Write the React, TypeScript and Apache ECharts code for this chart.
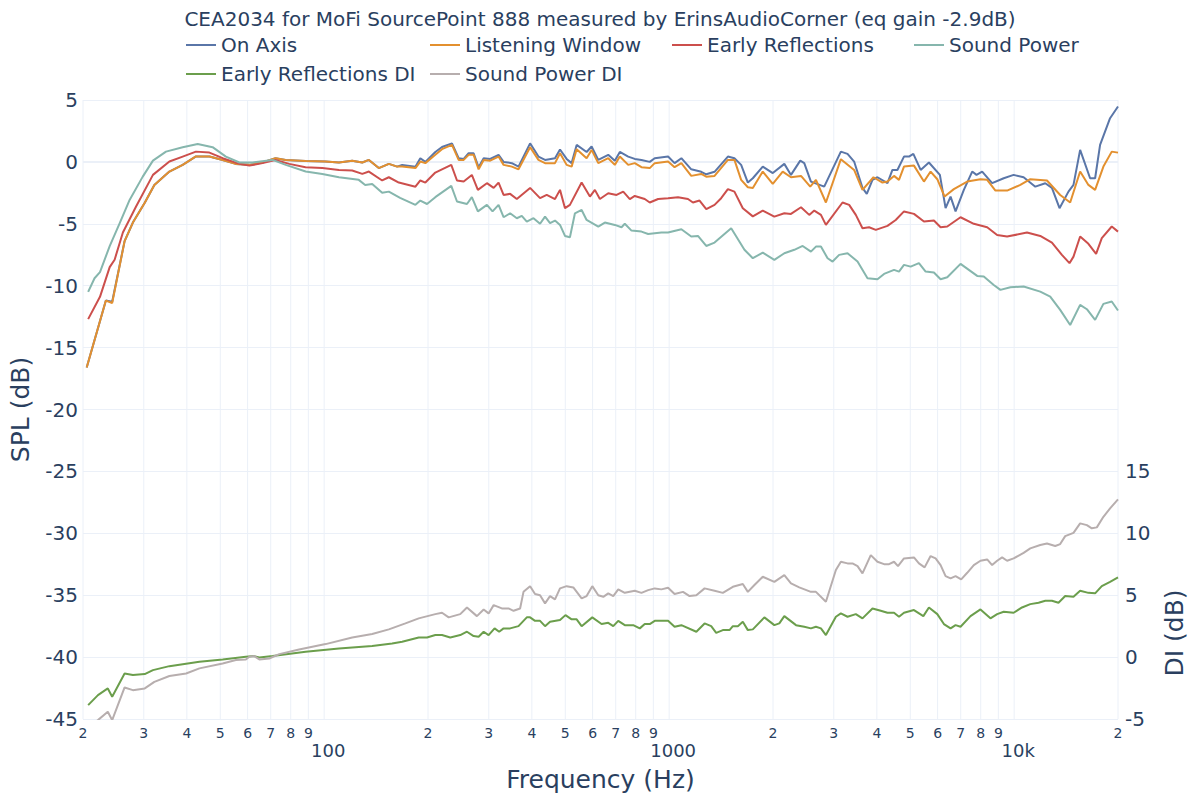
import React, { useEffect, useRef } from 'react';
import * as echarts from 'echarts';

const TITLE = 'CEA2034 for MoFi SourcePoint 888 measured by ErinsAudioCorner (eq gain -2.9dB)';
const FREQ_MIN = 20;
const FREQ_MAX = 20000;
const SPL_MIN = -45;
const SPL_MAX = 5;
const DI_MIN = -5;
const DI_MAX = 45;
const DI_LABEL_MAX = 15;

const tickHz = [20, 30, 40, 50, 60, 70, 80, 90, 100, 200, 300, 400, 500, 600, 700, 800, 900,
  1000, 2000, 3000, 4000, 5000, 6000, 7000, 8000, 9000, 10000, 20000];
const majorTickHz = [100, 1000, 10000];
const majorTickLabels = ['100', '1000', '10k'];

const seriesNames = ['On Axis', 'Listening Window', 'Early Reflections', 'Sound Power', 'Early Reflections DI', 'Sound Power DI'];
const seriesColors = ['#5a76a8', '#e3902f', '#cc4f4c', '#86b6ad', '#6b9e4c', '#b7aeae'];

const onAxis: [number, number][] = [
  [20.5, -16.6], [23.3, -11.2], [24.3, -11.3], [26.4, -6.4], [27.9, -4.9], [30.2, -3.3], [32.2, -1.86], [35.6, -0.78],
  [38.9, -0.24], [42.4, 0.43], [46.5, 0.43], [50.8, 0.16], [55.4, -0.16], [60.7, -0.24], [66.3, -0.05], [72.3, 0.3],
  [77.3, 0.16], [88.3, 0.08], [100.8, 0.03], [110.4, -0.05], [120.6, 0.1], [129, -0.05], [134.8, 0.16], [144, -0.5],
  [154, -0.16], [162.8, -0.38], [168.3, -0.24], [183.9, -0.4], [190, 0.3], [196.5, 0.0], [210, 0.8], [219.6, 1.2],
  [234.7, 1.5], [245.4, 0.3], [253.8, 0.24], [262.3, 0.7], [271.2, 0.7], [280.4, -0.43], [290, 0.3], [302.8, 0.24],
  [320.3, 0.57], [331.2, 0.0], [350, -0.1], [365.9, -0.38], [395.3, 1.5], [418, 0.43], [436.8, 0.16], [466.8, 0.3],
  [482.7, 1.0], [504.5, 0.24], [521.6, -0.1], [539.4, 1.37], [576.5, 0.8], [596, 1.24], [623.1, 0.16], [666, 0.57],
  [695.9, 0.1], [719.6, 0.8], [760.9, 0.43], [795, 0.24], [831.3, 0.16], [878.6, 0.0], [908.2, 0.3], [992.9, 0.43],
  [1037, -0.1], [1085, 0.3], [1159, -0.6], [1239, -0.8], [1281, -1.0], [1354, -0.8], [1480, 0.43], [1546, 0.3],
  [1617, -0.24], [1691, -1.67], [1748, -1.32], [1868, -0.38], [1997, -0.9], [2157, -0.16], [2255, -1.05], [2399, 0.1],
  [2464, -0.1], [2576, -1.59], [2815, -2.0], [3146, 0.83], [3289, 0.65], [3437, 0.03], [3634, -2.1], [3740, -2.58],
  [3885, -1.45], [4016, -1.24], [4293, -1.72], [4438, -0.65], [4588, -0.65], [4794, 0.43], [4956, 0.43], [5103, 0.65],
  [5358, -0.65], [5662, -0.05], [6092, -1.05], [6328, -3.74], [6542, -2.8], [6764, -4.0], [7148, -2.26], [7558, -0.78],
  [7778, -1.05], [8078, -0.78], [8634, -1.72], [9328, -1.32], [9967, -1.05], [10653, -1.24], [11519, -2.0], [12311, -1.72],
  [12868, -2.1], [13537, -3.74], [14369, -2.4], [14860, -1.86], [15534, 0.97], [16603, -1.32], [17167, -1.32], [17746, 1.37],
  [18968, 3.53], [20000, 4.47],
];

const listeningWindow: [number, number][] = [
  [20.5, -16.6], [23.3, -11.2], [24.3, -11.4], [26.4, -6.4], [27.9, -4.9], [30.2, -3.3], [32.2, -1.86], [35.6, -0.78],
  [38.9, -0.24], [42.4, 0.43], [46.5, 0.43], [50.8, 0.16], [55.4, -0.16], [60.7, -0.24], [66.3, -0.05], [72.3, 0.3],
  [77.3, 0.16], [88.3, 0.08], [100.8, 0.03], [110.4, -0.05], [120.6, 0.1], [129, -0.05], [134.8, 0.16], [144, -0.5],
  [154, -0.16], [162.8, -0.38], [168.3, -0.38], [183.9, -0.5], [190, 0.03], [196.5, -0.1], [210, 0.57], [219.6, 1.03],
  [234.7, 1.37], [245.4, 0.16], [253.8, 0.16], [262.3, 0.57], [271.2, 0.57], [280.4, -0.6], [290, 0.16], [302.8, 0.1],
  [320.3, 0.43], [331.2, -0.24], [350, -0.38], [365.9, -0.6], [395.3, 1.19], [418, 0.16], [436.8, -0.1], [466.8, -0.1],
  [482.7, 0.7], [504.5, -0.24], [521.6, -0.38], [539.4, 1.03], [576.5, 0.3], [596, 0.97], [623.1, -0.1], [666, 0.3],
  [695.9, -0.24], [719.6, 0.43], [760.9, -0.24], [795, -0.1], [831.3, -0.43], [878.6, -0.5], [908.2, -0.1], [992.9, 0.03],
  [1037, -0.43], [1085, -0.1], [1159, -1.13], [1239, -0.97], [1281, -1.19], [1354, -1.13], [1480, 0.16], [1546, 0.16],
  [1617, -1.45], [1691, -2.05], [1748, -2.1], [1868, -0.78], [1997, -1.78], [2134, -0.78], [2255, -1.24], [2411, -1.13],
  [2564, -2.0], [2664, -1.45], [2847, -3.28], [3146, 0.22], [3437, -0.65], [3634, -2.26], [3911, -1.24], [4152, -1.67],
  [4293, -1.59], [4486, -1.13], [4637, -1.45], [4794, -0.38], [5124, -0.3], [5477, -1.59], [5726, -0.78], [5988, -1.4],
  [6286, -2.8], [6687, -2.2], [7311, -1.59], [7987, -1.4], [8352, -1.45], [8826, -2.32], [9541, -2.32], [10421, -1.86],
  [11137, -1.4], [12449, -1.5], [13598, -2.67], [14534, -3.28], [15534, -0.78], [16415, -1.86], [17167, -2.26], [18143, -0.38],
  [19184, 0.83], [20000, 0.75],
];

const earlyReflections: [number, number][] = [
  [20.7, -12.7], [22.4, -10.9], [23.9, -8.5], [24.7, -7.9], [26.1, -5.7], [28.5, -3.6], [31.9, -1.05], [35.6, 0.03],
  [38.9, 0.43], [42.5, 0.83], [46.5, 0.75], [50.8, 0.3], [56.8, -0.16], [60.7, -0.3], [66.3, -0.1], [72.2, 0.16],
  [79.2, -0.16], [88.3, -0.43], [98.8, -0.5], [110.4, -0.65], [120.6, -0.7], [129, -0.97], [134.8, -0.78], [147.3, -1.5],
  [154, -1.24], [164.6, -1.67], [183.9, -2.0], [190, -1.5], [196.5, -1.67], [210, -0.86], [233.6, -0.24], [242.7, -1.5],
  [253.8, -1.59], [268, -1.05], [279, -2.26], [296.3, -1.72], [310, -2.1], [320.3, -1.67], [331.2, -2.67], [346, -2.58],
  [361.8, -3.0], [395.3, -2.1], [422.5, -2.93], [441.7, -2.67], [466.8, -3.0], [482.7, -2.26], [499, -3.74], [515.7, -3.47],
  [557.6, -1.67], [589.3, -2.8], [609.2, -2.26], [629.9, -3.0], [666, -2.53], [703.9, -2.67], [736.1, -2.4], [769.1, -3.0],
  [795, -2.75], [849.7, -3.0], [878.6, -3.28], [929, -3.0], [992.9, -2.93], [1061, -2.85], [1134, -3.0], [1172, -3.28],
  [1225, -3.12], [1281, -3.82], [1354, -3.47], [1415, -2.93], [1480, -2.2], [1546, -2.4], [1635, -3.74], [1748, -4.4],
  [1868, -3.93], [2018, -4.42], [2157, -4.15], [2255, -4.2], [2411, -3.66], [2547, -4.28], [2634, -3.93], [2754, -4.28],
  [2847, -5.09], [3181, -3.28], [3325, -3.47], [3476, -4.28], [3634, -5.36], [3798, -5.28], [3971, -5.49], [4293, -5.17],
  [4537, -4.69], [4794, -4.0], [5124, -4.2], [5477, -4.82], [5854, -4.74], [6121, -5.28], [6400, -5.22], [6992, -4.47],
  [7640, -5.0], [8352, -5.28], [8927, -5.9], [9541, -6.03], [10896, -5.71], [11904, -5.98], [12868, -6.52], [13753, -7.51],
  [14468, -8.18], [14860, -7.65], [15534, -6.03], [16415, -6.62], [17281, -7.43], [17949, -6.16], [19184, -5.22], [20000, -5.63],
];

const soundPower: [number, number][] = [
  [20.7, -10.5], [21.6, -9.4], [22.4, -8.9], [23.9, -6.8], [25.5, -5.0], [27.3, -3.07], [29.8, -1.19], [31.9, 0.1],
  [34.8, 0.83], [38.9, 1.19], [43.0, 1.45], [47.5, 1.19], [51.9, 0.43], [56.8, -0.05], [62.0, -0.05], [70.9, 0.16],
  [77.4, -0.24], [88.4, -0.78], [98.8, -0.97], [110.4, -1.24], [126, -1.45], [131.5, -1.86], [137.8, -1.78], [147.3, -2.5],
  [154, -2.4], [166, -2.9], [183.9, -3.47], [190, -3.12], [198.7, -3.4], [210, -2.85], [233.6, -1.94], [242.7, -3.2],
  [259.4, -3.4], [268, -2.85], [279, -4.0], [296.3, -3.47], [307.7, -4.0], [320.3, -3.47], [331.2, -4.47], [346, -4.15],
  [361.8, -4.55], [374, -4.36], [386.7, -4.82], [404.4, -4.55], [422.5, -5.0], [436.8, -4.42], [451.6, -4.95], [466.8, -4.74],
  [482.7, -5.09], [499, -5.98], [515.7, -6.08], [533.3, -4.15], [557.6, -3.88], [576.5, -4.69], [623.1, -5.22], [651.1, -4.9],
  [695.9, -5.09], [727.7, -5.28], [743.8, -5.0], [777.8, -5.55], [831.3, -5.63], [869.2, -5.82], [949.7, -5.71], [992.9, -5.71],
  [1085, -5.44], [1159, -6.03], [1212, -5.98], [1281, -6.79], [1354, -6.52], [1513, -5.36], [1653, -7.1], [1748, -7.78],
  [1868, -7.33], [2018, -7.92], [2157, -7.38], [2306, -7.1], [2438, -6.79], [2576, -7.25], [2664, -6.84], [2754, -6.84],
  [2879, -7.78], [2977, -8.05], [3110, -7.51], [3289, -7.38], [3516, -8.05], [3758, -9.4], [4016, -9.48], [4197, -9.05],
  [4486, -8.72], [4637, -8.86], [4794, -8.32], [5012, -8.46], [5297, -8.18], [5539, -8.86], [5854, -8.94], [6121, -9.48],
  [6400, -9.32], [6992, -8.24], [7814, -9.21], [8165, -9.26], [8727, -9.94], [9125, -10.34], [9753, -10.12], [10653, -10.07],
  [11904, -10.48], [12723, -10.88], [13598, -11.95], [14534, -13.17], [15534, -11.55], [16248, -11.9], [17167, -12.76], [18143, -11.47],
  [19184, -11.28], [20000, -12.0],
];

const earlyReflectionsDI: [number, number][] = [
  [20.7, -3.88], [22.1, -3.07], [23.6, -2.53], [24.3, -3.2], [26.4, -1.32], [27.9, -1.45], [30.2, -1.37], [31.9, -1.05],
  [35.6, -0.73], [43.5, -0.38], [50.8, -0.19], [59.3, 0.03], [62.7, 0.08], [64.9, -0.03], [70.9, 0.08], [88.4, 0.43],
  [110.4, 0.7], [137.8, 0.89], [157.4, 1.1], [168.3, 1.24], [188, 1.59], [198.7, 1.59], [210, 1.78], [219.6, 1.78],
  [232, 1.59], [248, 1.78], [259.4, 2.05], [271.2, 1.7], [280.4, 1.64], [290, 2.05], [299.7, 1.78], [311.9, 2.32],
  [321.6, 2.05], [331.2, 2.32], [346, 2.32], [365.9, 2.5], [386.7, 3.21], [395.3, 3.21], [408.6, 2.93], [422.5, 2.93],
  [436.8, 2.5], [451.6, 2.85], [482.7, 2.99], [500.6, 3.39], [521.6, 3.05], [539.4, 3.05], [557.6, 2.5], [598.7, 3.21],
  [637, 2.67], [666, 2.77], [688.7, 2.5], [711.9, 2.93], [743.8, 2.58], [786.8, 2.58], [822, 2.32], [849.7, 2.67],
  [878.6, 2.67], [908.2, 2.93], [992.9, 2.93], [1037, 2.45], [1085, 2.58], [1199, 2.05], [1267, 2.72], [1324, 2.5],
  [1369, 1.96], [1431, 2.18], [1496, 2.18], [1530, 2.5], [1582, 2.5], [1635, 2.85], [1691, 2.18], [1748, 2.24],
  [1888, 3.21], [2018, 2.58], [2086, 2.72], [2157, 3.31], [2332, 2.58], [2464, 2.45], [2576, 2.32], [2664, 2.45],
  [2754, 2.32], [2847, 1.78], [3043, 3.26], [3146, 3.53], [3289, 3.26], [3476, 3.47], [3634, 3.13], [3885, 3.93],
  [4105, 3.74], [4293, 3.58], [4486, 3.58], [4637, 3.26], [4794, 3.58], [5124, 3.8], [5455, 3.31], [5662, 4.01],
  [5988, 3.47], [6257, 2.67], [6542, 2.32], [6764, 2.58], [6992, 2.45], [7473, 3.31], [7987, 3.85], [8537, 3.13],
  [8927, 3.47], [9328, 3.66], [9967, 3.58], [10540, 4.01], [11137, 4.28], [11770, 4.39], [12311, 4.55], [12868, 4.55],
  [13444, 4.39], [14060, 4.93], [14860, 4.87], [15534, 5.36], [16415, 5.19], [17167, 5.15], [17949, 5.73], [18968, 6.08],
  [20000, 6.44],
];

const soundPowerDI: [number, number][] = [
  [20.5, -5.8], [22.1, -5.09], [23.6, -4.42], [24.3, -5.09], [26.4, -2.45], [27.9, -2.67], [30.2, -2.53], [32.2, -2.0],
  [35.6, -1.53], [39.8, -1.32], [43.5, -0.91], [50.8, -0.51], [55.5, -0.24], [59.3, -0.19], [60.7, 0.03], [62.7, 0.08],
  [64.9, -0.19], [69.3, -0.11], [74.1, 0.24], [84.6, 0.62], [101, 1.05], [120.6, 1.59], [137.8, 1.86], [154, 2.24],
  [172, 2.72], [188, 3.13], [210, 3.47], [219.6, 3.58], [229.6, 3.21], [248, 3.47], [259.4, 4.01], [277.2, 3.31],
  [290, 3.85], [299.7, 3.53], [310, 4.2], [327.4, 3.93], [342.3, 3.93], [354, 3.74], [369.8, 3.93], [378.3, 5.27],
  [395.3, 5.73], [408.6, 5.09], [422.5, 5.0], [436.8, 4.34], [451.6, 4.93], [466.8, 4.66], [482.7, 5.55], [504.5, 5.73],
  [527.5, 5.63], [557.6, 4.74], [576.5, 4.93], [598.7, 5.73], [623.1, 5.0], [644.4, 4.87], [666, 5.15], [688.7, 4.93],
  [711.9, 5.47], [743.8, 5.19], [795, 5.36], [831.3, 5.19], [869.2, 5.41], [908.2, 5.55], [949.7, 5.47], [992.9, 5.6],
  [1037, 5.09], [1097, 5.27], [1146, 4.93], [1199, 5.0], [1267, 5.55], [1354, 5.36], [1431, 5.19], [1530, 5.68],
  [1635, 5.9], [1691, 5.27], [1767, 5.82], [1868, 6.49], [2018, 6.08], [2157, 6.62], [2255, 5.95], [2383, 5.63],
  [2576, 5.27], [2664, 5.27], [2847, 4.47], [3043, 7.03], [3146, 7.7], [3289, 7.57], [3400, 7.57], [3516, 7.35],
  [3634, 6.76], [3841, 8.24], [4016, 7.7], [4197, 7.51], [4339, 7.51], [4486, 7.7], [4606, 7.35], [4794, 7.97],
  [5124, 8.05], [5297, 7.57], [5502, 7.25], [5726, 8.16], [5920, 7.97], [6121, 7.43], [6328, 6.54], [6542, 6.36],
  [6764, 6.54], [7023, 6.28], [7311, 6.81], [7640, 7.43], [7987, 7.78], [8352, 7.89], [8634, 7.43], [8927, 7.78],
  [9228, 8.05], [9541, 7.78], [9967, 7.97], [10653, 8.42], [11137, 8.78], [11904, 9.05], [12449, 9.18], [13154, 8.97],
  [13598, 9.13], [14060, 9.77], [14860, 10.04], [15534, 10.8], [16248, 10.66], [16793, 10.4], [17365, 10.48], [18143, 11.33],
  [18968, 12.01], [20000, 12.74],
];

const seriesData = [onAxis, listeningWindow, earlyReflections, soundPower, earlyReflectionsDI, soundPowerDI];
const seriesOnDI = [false, false, false, false, true, true];

const legendPos = [
  { left: 186, top: 35 }, { left: 430, top: 35 }, { left: 672, top: 35 }, { left: 914, top: 35 },
  { left: 186, top: 64 }, { left: 430, top: 64 },
];

const FONT = 'DejaVu Sans';
const TEXT = '#2a3f5f';
const GRID = '#ebf0f8';

const lg = (f: number) => Math.log10(f);

function leadingDigit(v: number): string {
  const hz = Math.round(Math.pow(10, v));
  const idx = tickHz.findIndex((t) => Math.abs(t - hz) / t < 0.01);
  if (idx < 0) return '';
  const t = tickHz[idx];
  if (majorTickHz.includes(t)) return '';
  return String(Math.round(t / Math.pow(10, Math.floor(Math.log10(t)))));
}

function majorLabel(v: number): string {
  const hz = Math.round(Math.pow(10, v));
  const idx = majorTickHz.findIndex((t) => Math.abs(t - hz) / t < 0.01);
  return idx < 0 ? '' : majorTickLabels[idx];
}

function buildOption(): any {
  const xMin = lg(FREQ_MIN);
  const xMax = lg(FREQ_MAX);

  // vertical grid lines at every log tick, drawn through the axes' scales
  const vGrid: any[] = [];
  tickHz.forEach((t) => {
    vGrid.push([lg(t), SPL_MIN], [lg(t), SPL_MAX], [lg(t), '-']);
  });

  const series: any[] = [
    {
      name: 'vgrid',
      type: 'line',
      data: vGrid,
      symbol: 'none',
      silent: true,
      connectNulls: false,
      clip: false,
      z: 0,
      lineStyle: { color: GRID, width: 1 },
      tooltip: { show: false },
    },
    {
      name: 'zeroline',
      type: 'line',
      data: [[xMin, 0], [xMax, 0]],
      symbol: 'none',
      silent: true,
      z: 1,
      lineStyle: { color: GRID, width: 2 },
      tooltip: { show: false },
    },
  ];
  seriesNames.forEach((name, i) => {
    series.push({
      name,
      type: 'line',
      xAxisIndex: 0,
      yAxisIndex: seriesOnDI[i] ? 1 : 0,
      data: seriesData[i].map(([f, v]) => [lg(f), v]),
      symbol: 'none',
      showSymbol: false,
      color: seriesColors[i],
      lineStyle: { color: seriesColors[i], width: 2 },
      z: 3,
      clip: true,
    });
  });

  return {
    animation: false,
    backgroundColor: '#ffffff',
    textStyle: { fontFamily: FONT, color: TEXT },
    title: {
      text: TITLE,
      left: 'center',
      top: 4,
      textStyle: { fontFamily: FONT, fontSize: 20, fontWeight: 'normal', color: TEXT },
    },
    legend: seriesNames.map((name, i) => ({
      data: [name],
      left: legendPos[i].left,
      top: legendPos[i].top,
      padding: 0,
      icon: 'rect',
      itemWidth: 30,
      itemHeight: 2,
      selectedMode: false,
      textStyle: { fontFamily: FONT, fontSize: 20, color: TEXT },
    })),
    grid: { left: 80, right: 82, top: 100, bottom: 81, containLabel: false },
    xAxis: [
      {
        type: 'value',
        min: xMin,
        max: xMax,
        position: 'bottom',
        name: 'Frequency (Hz)',
        nameLocation: 'middle',
        nameGap: 48,
        nameTextStyle: { fontFamily: FONT, fontSize: 25, color: TEXT },
        axisLine: { show: false },
        axisTick: { show: false, customValues: tickHz.map(lg) },
        axisLabel: {
          customValues: tickHz.map(lg),
          formatter: (v: number) => leadingDigit(v),
          fontFamily: FONT,
          fontSize: 14,
          color: TEXT,
          margin: 7,
        },
        splitLine: { show: false },
      },
      {
        type: 'value',
        min: xMin,
        max: xMax,
        position: 'bottom',
        offset: 0,
        axisLine: { show: false },
        axisTick: { show: false, customValues: majorTickHz.map(lg) },
        axisLabel: {
          customValues: majorTickHz.map(lg),
          formatter: (v: number) => majorLabel(v),
          fontFamily: FONT,
          fontSize: 18,
          color: TEXT,
          margin: 22,
          padding: [0, 0, 0, 8],
        },
        splitLine: { show: false },
      },
    ],
    yAxis: [
      {
        type: 'value',
        min: SPL_MIN,
        max: SPL_MAX,
        interval: 5,
        position: 'left',
        name: 'SPL (dB)',
        nameLocation: 'middle',
        nameGap: 50,
        nameTextStyle: { fontFamily: FONT, fontSize: 25, color: TEXT },
        axisLine: { show: false },
        axisTick: { show: false },
        axisLabel: { fontFamily: FONT, fontSize: 20, color: TEXT, margin: 5 },
        splitLine: { show: true, lineStyle: { color: GRID, width: 1 } },
      },
      {
        type: 'value',
        min: DI_MIN,
        max: DI_MAX,
        interval: 5,
        position: 'right',
        axisLine: { show: false },
        axisTick: { show: false },
        axisLabel: {
          fontFamily: FONT,
          fontSize: 20,
          color: TEXT,
          margin: 7,
          formatter: (v: number) => (v <= DI_LABEL_MAX ? String(v) : ''),
        },
        splitLine: { show: false },
      },
    ],
    graphic: [
      {
        type: 'text',
        x: 1174,
        y: 633,
        rotation: Math.PI / 2,
        style: {
          text: 'DI (dB)',
          fontFamily: FONT,
          fontSize: 25,
          fill: TEXT,
          align: 'center',
          verticalAlign: 'middle',
          textAlign: 'center',
          textVerticalAlign: 'middle',
        },
      },
    ],
    series,
  };
}

export default function App() {
  const ref = useRef<HTMLDivElement>(null);
  useEffect(() => {
    if (!ref.current) return;
    const chart = echarts.init(ref.current, null, { renderer: 'svg' });
    chart.setOption(buildOption());
    return () => chart.dispose();
  }, []);
  return (
    <div
      ref={ref}
      style={{ position: 'fixed', left: 0, top: 0, width: 1200, height: 800, background: '#ffffff' }}
    />
  );
}
